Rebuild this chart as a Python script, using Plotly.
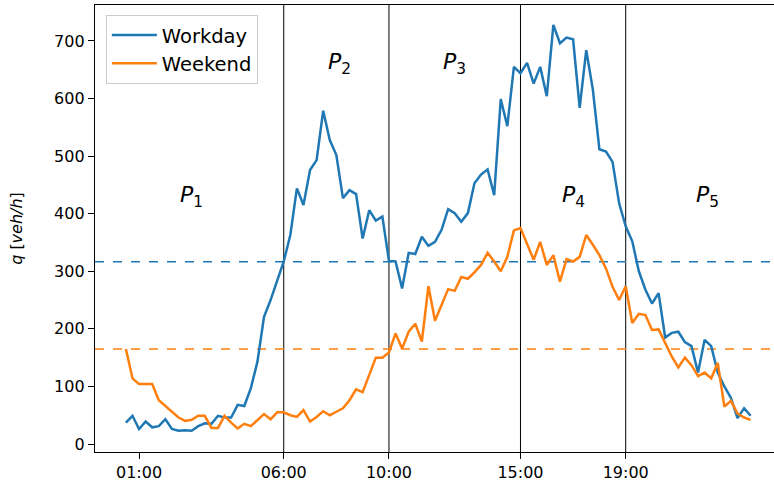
import plotly.graph_objects as go

# 15-minute traffic flow samples over one day (96 intervals)
workday = [37, 49, 26, 39, 29, 31, 43, 26, 23, 24,
           23, 31, 36, 35, 49, 46, 46, 68, 66, 97,
           143, 221, 250, 285, 317, 363, 444, 415, 476, 493,
           579, 528, 502, 427, 441, 434, 357, 406, 388, 395,
           318, 317, 270, 332, 330, 360, 344, 351, 372, 408,
           401, 386, 401, 453, 468, 477, 432, 599, 552, 655,
           644, 662, 626, 655, 604, 728, 696, 706, 703, 584,
           684, 616, 512, 508, 490, 418, 378, 352, 300, 268,
           244, 262, 185, 193, 195, 177, 170, 124, 181, 170,
           124, 100, 80, 45, 62, 49]
weekend = [165, 114, 104, 104, 104, 76, 66, 56, 46, 40,
           42, 49, 49, 28, 28, 49, 37, 27, 35, 31,
           42, 52, 43, 55, 55, 50, 47, 59, 39, 47,
           57, 50, 56, 62, 76, 95, 90, 120, 150, 150,
           159, 192, 166, 195, 209, 178, 274, 214, 241, 269,
           266, 290, 287, 298, 311, 332, 317, 300, 325, 371,
           375, 347, 320, 351, 311, 328, 282, 321, 317, 325,
           363, 346, 328, 305, 273, 250, 274, 210, 226, 224,
           198, 199, 175, 152, 133, 150, 137, 118, 124, 114,
           141, 65, 75, 53, 46, 42]
slots = list(range(len(workday)))

# period boundaries (slot index) and tick labels
tick_slots = [2, 24, 40, 60, 76]
tick_labels = ["01:00", "06:00", "10:00", "15:00", "19:00"]
boundaries = [24, 40, 60, 76]

# period labels: (slot, flow, name)
period_names = ["1", "2", "3", "4", "5"]
period_x = [10, 32.5, 50, 68, 88.5]
period_y = [430, 661, 661, 430, 430]

blue = "#1f77b4"
orange = "#ff7f0e"
font = "DejaVu Sans"

mean_workday = sum(workday) / len(workday)
mean_weekend = sum(weekend) / len(weekend)

fig = go.Figure()
fig.add_trace(go.Scatter(x=slots, y=workday, mode="lines", name="Workday",
                         line=dict(color=blue, width=2.5)))
fig.add_trace(go.Scatter(x=slots, y=weekend, mode="lines", name="Weekend",
                         line=dict(color=orange, width=2.5)))

shapes = []
for b in boundaries:
    shapes.append(dict(type="line", xref="x", yref="paper", x0=b, x1=b, y0=0, y1=1,
                       line=dict(color="black", width=1), layer="below"))
for m, c in [(mean_workday, blue), (mean_weekend, orange)]:
    shapes.append(dict(type="line", xref="paper", yref="y", x0=0, x1=1, y0=m, y1=m,
                       line=dict(color=c, width=1.5, dash="dash"), layer="below"))

annotations = []
for name, px, py in zip(period_names, period_x, period_y):
    annotations.append(dict(x=px, y=py, xref="x", yref="y", showarrow=False,
                            text=f"<i>P</i><sub>{name}</sub>",
                            font=dict(family=font, size=22, color="black")))

fig.update_layout(
    width=774, height=486,
    margin=dict(l=95, r=0, t=5, b=34),
    paper_bgcolor="white", plot_bgcolor="white",
    font=dict(family=font, size=16, color="black"),
    shapes=shapes,
    annotations=annotations,
    showlegend=True,
    legend=dict(x=0.016, y=0.978, xanchor="left", yanchor="top",
                bgcolor="rgba(255,255,255,0.8)", bordercolor="#cccccc", borderwidth=1,
                font=dict(family=font, size=19.5), itemwidth=45, tracegroupgap=0),
    xaxis=dict(range=[-4.7, 98.55], tickmode="array", tickvals=tick_slots, ticktext=tick_labels,
               showgrid=False, zeroline=False, showline=True, linecolor="black", linewidth=1.3,
               mirror=True, ticks="outside", ticklen=6, tickwidth=1.3, tickcolor="black",
               tickfont=dict(family=font, size=16)),
    yaxis=dict(range=[-13.9, 762.5], tickmode="array", tickvals=list(range(0, 701, 100)),
               showgrid=False, zeroline=False, showline=True, linecolor="black", linewidth=1.3,
               ticks="outside", ticklen=6, tickwidth=1.3, tickcolor="black",
               tickfont=dict(family=font, size=16),
               title=dict(text="<i>q</i> [<i>veh/h</i>]", font=dict(family=font, size=16), standoff=27)),
)

fig.write_html("out.html")
